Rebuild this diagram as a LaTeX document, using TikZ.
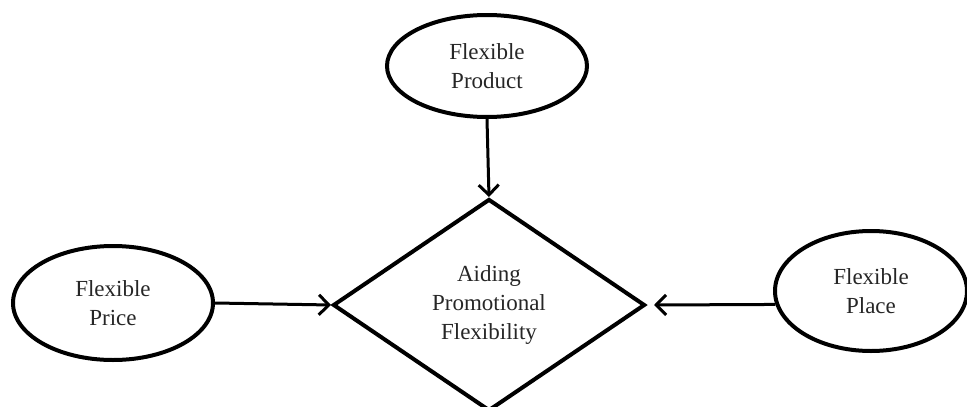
\documentclass[tikz,border=0pt]{standalone}
\usepackage{fontspec}
\setmainfont{Liberation Serif}
\usetikzlibrary{shapes.geometric,arrows.meta}
\begin{document}
\begin{tikzpicture}[x=1pt,y=-1pt,
  every node/.style={font=\fontsize{23}{29}\selectfont, align=center, text=black!85},
  oval/.style={ellipse, draw=black, line width=4pt, inner sep=0pt},
  decide/.style={diamond, draw=black, line width=4pt, inner sep=0pt,
    minimum width=312pt, minimum height=212pt},
  arr/.style={line width=3pt, -{Straight Barb[length=10pt,width=20pt,line width=3pt]}}]
\useasboundingbox (0,0) rectangle (967,407);
\node[decide] (aid) at (489,305) {Aiding\\Promotional\\Flexibility};
\node[oval, minimum width=200pt, minimum height=102pt] (product) at (487,66) {Flexible\\Product};
\node[oval, minimum width=200pt, minimum height=114pt] (price) at (113,303) {Flexible\\Price};
\node[oval, minimum width=192pt, minimum height=120pt] (place) at (871,291) {Flexible\\Place};
\draw[arr] (product.south) -- (aid.north);
\draw[arr] (price.east) -- (aid.west);
\draw[arr] (place.188) -- ([xshift=7pt]aid.east);
\end{tikzpicture}
\end{document}
